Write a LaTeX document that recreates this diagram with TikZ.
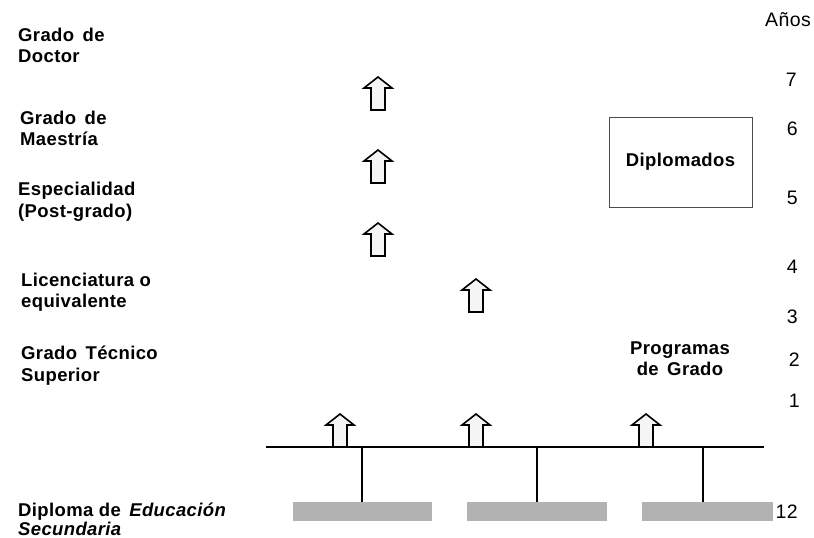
\documentclass[tikz,border=0pt]{standalone}
\usepackage{fontspec}
\setmainfont{Liberation Sans}
\newfontfamily\lblfont[LetterSpace=2]{Liberation Sans}
\newcommand\wsp{\ \hspace{3pt}}
\begin{document}
\begin{tikzpicture}[x=1pt,y=-1pt,
  lbl/.style={anchor=base west,inner sep=0pt,font=\lblfont\fontsize{18.5}{22}\selectfont\bfseries},
  ctr/.style={anchor=base,inner sep=0pt,font=\lblfont\fontsize{18.5}{22}\selectfont\bfseries},
  num/.style={anchor=base east,inner sep=0pt,font=\lblfont\fontsize{19.5}{22}\selectfont},
  arrowline/.style={draw=black,line width=1.6pt,fill=gray!8,line join=miter},
  baseline/.style={draw=black,line width=1.4pt},
  drop/.style={draw=black,line width=1.2pt},
  graybox/.style={fill=gray!60,draw=none,inner sep=0pt,minimum height=19pt,anchor=north west},
  uparrow/.pic={\path[arrowline] (-7,0) -- (-7,-22) -- (-14,-22) -- (0,-33) -- (14,-22) -- (7,-22) -- (7,0) -- cycle;}
]
\useasboundingbox (0,0) rectangle (814,538);

% left labels
\node[lbl] (d1) at (18,41) {Grado\wsp de};
\node[lbl] (d2) at (18,62) {Doctor};
\node[lbl] (m1) at (20,124) {Grado\wsp de};
\node[lbl] (m2) at (20,145) {Maestría};
\node[lbl] (e1) at (18,195) {Especialidad};
\node[lbl] (e2) at (18,217) {(Post-grado)};
\node[lbl] (l1) at (21,286) {Licenciatura o};
\node[lbl] (l2) at (21,307) {equivalente};
\node[lbl] (t1) at (21,359) {Grado\wsp Técnico};
\node[lbl] (t2) at (21,381) {Superior};
\node[lbl] (s1) at (18,516) {Diploma de\wsp\textit{Educación}};
\node[lbl] (s2) at (18,535) {\textit{Secundaria}};

% right numbers
\node[num] (anos) at (811,27) {Años};
\node[num] (n7) at (797,86) {7};
\node[num] (n6) at (798,135) {6};
\node[num] (n5) at (798,204) {5};
\node[num] (n4) at (798,273) {4};
\node[num] (n3) at (798,323) {3};
\node[num] (n2) at (800,366) {2};
\node[num] (n1) at (800,407) {1};
\node[num] (n12) at (798,518) {12};

% Diplomados box
\node[draw=black!70,line width=0.8pt,minimum width=143pt,minimum height=90pt,inner sep=0pt,
  font=\lblfont\fontsize{18.5}{22}\selectfont\bfseries] (dip) at (680.5,162) {Diplomados};

% Programas de Grado
\node[ctr] (p1) at (680,354) {Programas};
\node[ctr] (p2) at (680,375) {de\wsp Grado};

% arrows
\pic at (378,110) {uparrow};
\pic at (378,183) {uparrow};
\pic at (378,256) {uparrow};
\pic at (476,312) {uparrow};
\pic at (340,447) {uparrow};
\pic at (476,447) {uparrow};
\pic at (646,447) {uparrow};

% horizontal line
\coordinate (hl) at (266,447);
\coordinate (hr) at (764,447);
\draw[baseline] (hl) -- (hr);

% gray boxes
\node[graybox,minimum width=139pt] (g1) at (293,502) {};
\node[graybox,minimum width=140pt] (g2) at (467,502) {};
\node[graybox,minimum width=131pt] (g3) at (642,502) {};

% drops
\draw[drop] (g1.north west) ++(69,0) coordinate (c1) -- (c1 |- hl);
\draw[drop] (g2.north west) ++(70,0) coordinate (c2) -- (c2 |- hl);
\draw[drop] (g3.north west) ++(61,0) coordinate (c3) -- (c3 |- hl);
\end{tikzpicture}
\end{document}
